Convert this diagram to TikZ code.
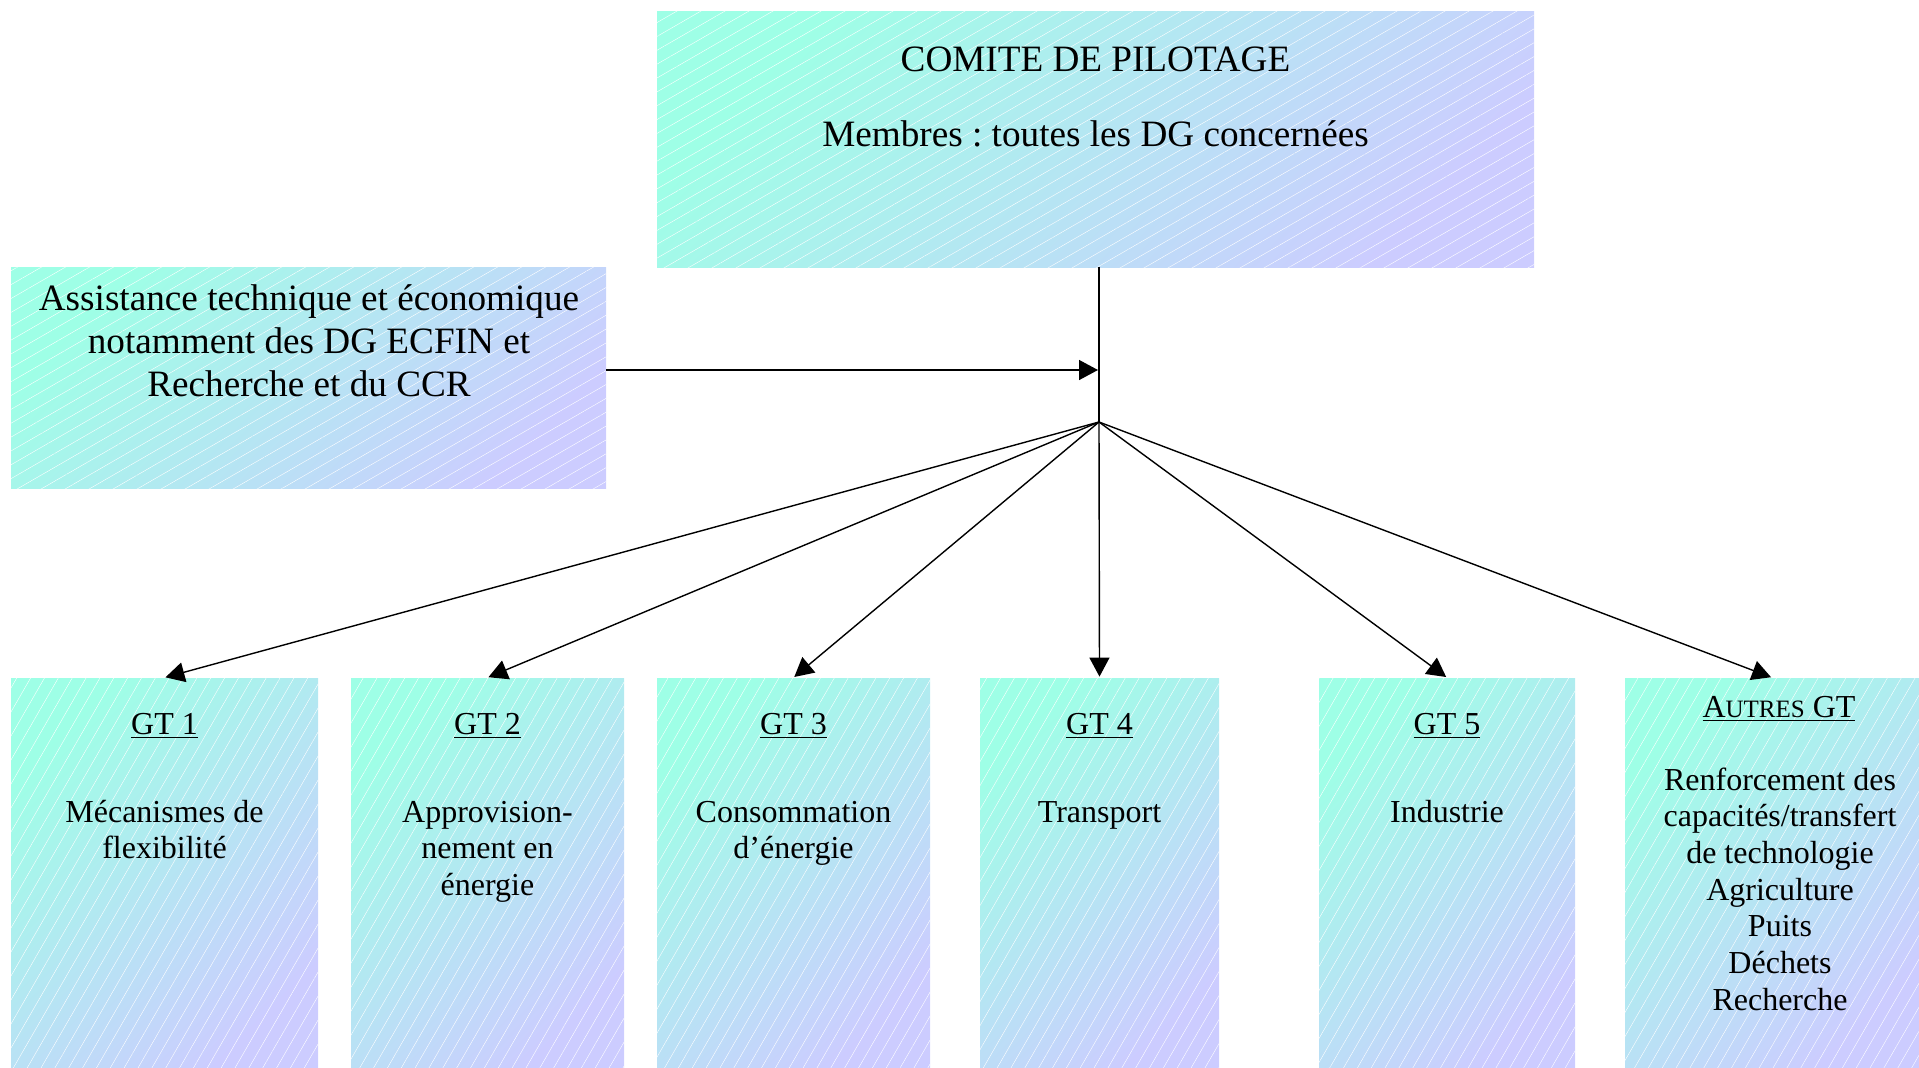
\documentclass[tikz,border=0pt]{standalone}
\usepackage{fontspec}
\setmainfont{Liberation Serif}
\usetikzlibrary{arrows.meta,patterns.meta}

\definecolor{aquagt}{RGB}{158,255,230}
\definecolor{lilasgt}{RGB}{204,204,255}

\newcommand{\grand}{\fontsize{18.6}{21.5}\selectfont}
\newcommand{\petit}{\fontsize{16}{18.35}\selectfont}
\frenchspacing

\begin{document}
\begin{tikzpicture}[x=0.5pt, y=-0.5pt,
    every node/.style={inner sep=0pt, align=center},
    boite/.style={rectangle, top color=aquagt, bottom color=lilasgt, shading angle=45,
        postaction={pattern={Lines[angle=#1,distance=6pt,line width=0.2pt]},
        pattern color=white, fill opacity=0.2}},
    boite/.default=60,
    lien/.style={line width=0.7pt},
    fleche/.style={lien, -{Triangle[length=9.5pt,width=10pt]}, shorten >=0.5pt}]
    \useasboundingbox (0,0) rectangle (1919,1067);

    % boites
    \node[boite=30, minimum width=438.5pt, minimum height=128pt] (comite) at (1095.5,139) {};
    \node[boite=30, minimum width=297.5pt, minimum height=110.5pt] (assist) at (308.5,377.5) {};
    \node[boite, minimum width=153.5pt, minimum height=194.5pt] (gt1) at (164.5,872.5) {};
    \node[boite, minimum width=136.5pt, minimum height=194.5pt] (gt2) at (487.5,872.5) {};
    \node[boite, minimum width=136.5pt, minimum height=194.5pt] (gt3) at (793.5,872.5) {};
    \node[boite, minimum width=119.5pt, minimum height=194.5pt] (gt4) at (1099.5,872.5) {};
    \node[boite, minimum width=128pt, minimum height=194.5pt] (gt5) at (1447,872.5) {};
    \node[boite, minimum width=147pt, minimum height=194.5pt] (autres) at (1772,872.5) {};

    % textes
    \node[anchor=north, font=\grand] (comitetxt) at (1095.5,41)
        {\strut COMITE DE PILOTAGE\\[16pt]Membres : toutes les DG concernées};
    \node[anchor=north, font=\grand] (assisttxt) at (309,280)
        {\strut Assistance technique et économique\\notamment des DG ECFIN et\\Recherche et du CCR};

    \node[anchor=north, font=\petit] (gt1tit) at (gt1 |- 0,708) {\strut\underline{GT 1}};
    \node[anchor=north, font=\petit] (gt2tit) at (gt2 |- 0,708) {\strut\underline{GT 2}};
    \node[anchor=north, font=\petit] (gt3tit) at (gt3 |- 0,708) {\strut\underline{GT 3}};
    \node[anchor=north, font=\petit] (gt4tit) at (gt4 |- 0,708) {\strut\underline{GT 4}};
    \node[anchor=north, font=\petit] (gt5tit) at (gt5 |- 0,708) {\strut\underline{GT 5}};
    \node[anchor=north, font=\petit] (autrestit) at (1779,691)
        {\strut\underline{A{\fontsize{12.5}{15}\selectfont UTRES} GT}};

    \node[anchor=north, font=\petit] (gt1txt) at (gt1 |- 0,796) {\strut Mécanismes de\\flexibilité};
    \node[anchor=north, font=\petit] (gt2txt) at (gt2 |- 0,796) {\strut Approvision-\\nement en\\énergie};
    \node[anchor=north, font=\petit] (gt3txt) at (gt3 |- 0,796) {\strut Consommation\\d’énergie};
    \node[anchor=north, font=\petit] (gt4txt) at (gt4 |- 0,796) {\strut Transport};
    \node[anchor=north, font=\petit] (gt5txt) at (gt5 |- 0,796) {\strut Industrie};
    \node[anchor=north, font=\petit] (autrestxt) at (1780,764)
        {\strut Renforcement des\\capacités/transfert\\de technologie\\Agriculture\\Puits\\Déchets\\Recherche};

    % liaisons
    \coordinate (hub) at (1099,422);
    \coordinate (tee) at (1099,370);
    \draw[lien] (comite.south -| hub) -- (hub);
    \draw[fleche] (assist.east |- tee) -- (tee);
    \draw[fleche] (hub) -- (gt1.north);
    \draw[fleche] (hub) -- (gt2.north);
    \draw[fleche] (hub) -- (gt3.north);
    \draw[fleche] (hub) -- (gt4.north);
    \draw[fleche] (hub) -- (gt5.north);
    \draw[fleche] (hub) -- (autres.north);
\end{tikzpicture}
\end{document}
